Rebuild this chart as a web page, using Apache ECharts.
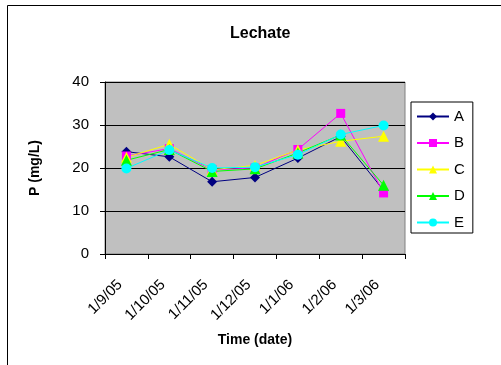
<!DOCTYPE html>
<html>
<head>
<meta charset="utf-8">
<script src="https://cdn.jsdelivr.net/npm/echarts@6/dist/echarts.min.js"></script>
<style>
  html, body { margin: 0; padding: 0; background: #fff; }
  #chart { width: 501px; height: 365px; }
</style>
</head>
<body>
<div id="chart"></div>
<script>
// Leachate phosphorus readings per sampling date
const dates = ['1/9/05', '1/10/05', '1/11/05', '1/12/05', '1/1/06', '1/2/06', '1/3/06'];
const seriesA = [23.8, 22.6, 16.8, 17.8, 22.3, 27.3, 14.8];
const seriesB = [22.8, 24.5, 19.6, 20.0, 24.3, 32.7, 14.2];
const seriesC = [22.5, 25.5, 19.6, 20.6, 24.2, 26.2, 27.4];
const seriesD = [21.8, 24.3, 19.2, 19.8, 23.5, 27.7, 16.0];
const seriesE = [19.9, 24.2, 20.0, 20.2, 23.1, 27.8, 29.9];
const yTicks = [0, 10, 20, 30, 40];

const font = 'Liberation Sans, Arial, sans-serif';

function line(name, data, color, symbol, size) {
  return {
    name: name,
    type: 'line',
    data: data,
    symbol: symbol,
    symbolSize: size,
    lineStyle: { color: color, width: 1 },
    itemStyle: { color: color },
    emphasis: { disabled: true },
    animation: false
  };
}

const chart = echarts.init(document.getElementById('chart'), null, { renderer: 'canvas' });
chart.setOption({
  backgroundColor: '#ffffff',
  animation: false,
  graphic: [{
    type: 'rect',
    shape: { x: 7.5, y: 5.5, width: 600, height: 500 },
    style: { fill: null, stroke: '#000', lineWidth: 1 },
    z: -10
  }],
  title: {
    text: 'Lechate',
    left: 225,
    top: 21,
    textStyle: { fontFamily: font, fontSize: 16, fontWeight: 'bold', color: '#000' }
  },
  grid: {
    left: 105, top: 82, right: 96, bottom: 111,
    show: true,
    backgroundColor: '#C0C0C0',
    borderColor: '#808080',
    borderWidth: 1
  },
  legend: {
    orient: 'vertical',
    left: 411,
    top: 102,
    width: 58,
    padding: [7, 8, 3, 5],
    itemGap: 11.5,
    itemWidth: 32,
    itemHeight: 10,
    borderColor: '#000',
    borderWidth: 1,
    borderRadius: 0,
    backgroundColor: '#fff',
    textStyle: { fontFamily: font, fontSize: 15, color: '#000' },
    data: ['A', 'B', 'C', 'D', 'E']
  },
  xAxis: {
    type: 'category',
    data: dates,
    boundaryGap: true,
    name: 'Time (date)',
    nameLocation: 'middle',
    nameGap: 79,
    nameTextStyle: { fontFamily: font, fontSize: 14, fontWeight: 'bold', color: '#000' },
    axisLine: { lineStyle: { color: '#000', width: 1 } },
    axisTick: { show: true, length: 5, lineStyle: { color: '#000' } },
    axisLabel: {
      rotate: 45,
      margin: 22,
      padding: [0, 9, 0, 0],
      fontFamily: font,
      fontSize: 15,
      color: '#000',
      interval: 0
    },
    splitLine: { show: false }
  },
  yAxis: {
    type: 'value',
    min: yTicks[0],
    max: yTicks[yTicks.length - 1],
    interval: 10,
    name: 'P (mg/L)',
    nameLocation: 'middle',
    nameGap: 63,
    nameRotate: 90,
    nameTextStyle: { fontFamily: font, fontSize: 14, fontWeight: 'bold', color: '#000' },
    axisLine: { show: true, lineStyle: { color: '#000', width: 1 } },
    axisTick: { show: true, length: 5, lineStyle: { color: '#000' } },
    axisLabel: { fontFamily: font, fontSize: 15, color: '#000', margin: 16 },
    splitLine: { show: true, lineStyle: { color: '#000', width: 1 } }
  },
  series: [
    line('A', seriesA, '#000080', 'diamond', 10),
    line('B', seriesB, '#FF00FF', 'rect', 9),
    line('C', seriesC, '#FFFF00', 'triangle', 11),
    line('D', seriesD, '#00FF00', 'triangle', 11),
    line('E', seriesE, '#00FFFF', 'circle', 10)
  ]
});
</script>
</body>
</html>
